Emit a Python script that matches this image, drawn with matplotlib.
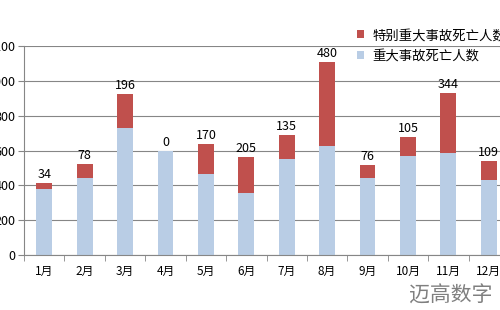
import numpy as np
import matplotlib
matplotlib.use('Agg')
import matplotlib.pyplot as plt

plt.rcParams['font.family'] = ['Noto Sans CJK SC', 'DejaVu Sans']

months = ['1月', '2月', '3月', '4月', '5月', '6月', '7月', '8月', '9月', '10月', '11月', '12月']
major_deaths = [380, 444, 730, 600, 467, 358, 553, 628, 443, 571, 588, 432]
extra_major_deaths = [34, 78, 196, 0, 170, 205, 135, 480, 76, 105, 344, 109]
yticks = [0, 200, 400, 600, 800, 1000, 1200]

blue = '#B9CDE5'
red = '#C0504D'
axis_color = '#868686'

fig = plt.figure(figsize=(5, 3.1), dpi=100)
ax = fig.add_axes([0.048, 0.177, 0.97, 0.674])

x = np.arange(len(months))
major = np.array(major_deaths)
extra = np.array(extra_major_deaths)

ax.bar(x, major, width=0.39, color=blue, label='重大事故死亡人数', zorder=2)
ax.bar(x, extra, width=0.39, bottom=major, color=red, label='特别重大事故死亡人数', zorder=2)

for xi, total, val in zip(x, major + extra, extra):
    ax.text(xi, total + 12, str(val), ha='center', va='bottom', fontsize=9, color='black')

ax.set_xlim(-0.5, len(months) - 0.5)
ax.set_ylim(0, 1200)
ax.set_yticks(yticks)
ax.set_yticklabels([str(v) for v in yticks], fontsize=9)
ax.set_xticks(x)
ax.set_xticklabels(months, fontsize=8.5)
ax.set_xticks(np.arange(-0.5, len(months), 1), minor=True)
ax.tick_params(axis='x', which='major', length=0, pad=7)
ax.tick_params(axis='x', which='minor', length=4, color=axis_color, direction='out')
ax.tick_params(axis='y', length=4, color=axis_color, pad=2)

ax.grid(axis='y', color=axis_color, linewidth=0.8, zorder=0)
ax.set_axisbelow(True)
for side in ['top', 'right']:
    ax.spines[side].set_visible(False)
for side in ['left', 'bottom']:
    ax.spines[side].set_color(axis_color)

handles, labels = ax.get_legend_handles_labels()
fig.legend(handles[::-1], labels[::-1], loc='upper left', bbox_to_anchor=(0.69, 0.948),
           frameon=False, fontsize=9.6, handlelength=0.55, handleheight=0.55,
           handletextpad=0.6, labelspacing=0.5)

fig.text(0.985, 0.01, '迈高数字', ha='right', va='bottom', fontsize=15, color='#7f7f7f')

fig.savefig('out.png', dpi=100)
